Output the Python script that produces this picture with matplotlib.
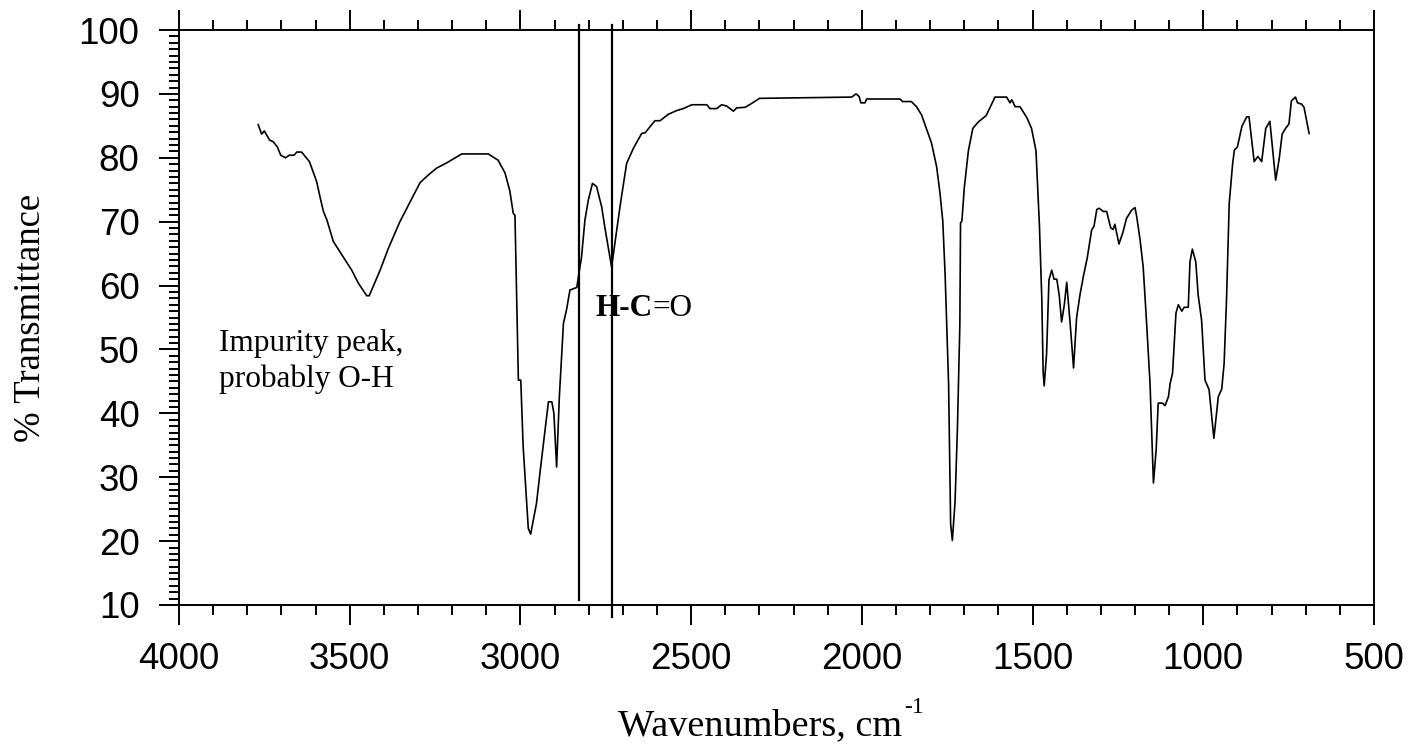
import matplotlib
matplotlib.use("Agg")
import matplotlib.pyplot as plt
from matplotlib.ticker import MultipleLocator

# ---- data ----
wavenumber = [
    3768, 3758, 3750, 3735, 3724, 3712, 3702, 3688, 3677, 3663, 3655, 3641,
    3618, 3607, 3597, 3585, 3577, 3567, 3548, 3519, 3494, 3475, 3450, 3443,
    3411, 3387, 3353, 3324, 3294, 3270, 3245, 3216, 3172, 3094, 3065, 3045,
    3031, 3021, 3016, 3006, 2999, 2992, 2977, 2970, 2953, 2943, 2918, 2908,
    2902, 2894, 2886, 2874, 2865, 2855, 2835, 2821, 2811, 2801, 2789, 2777,
    2762, 2753, 2733, 2708, 2689, 2669, 2645, 2635, 2606, 2591, 2567, 2542,
    2523, 2498, 2454, 2445, 2425, 2411, 2396, 2376, 2367, 2342, 2323, 2300,
    2030, 2017, 2008, 2003, 1991, 1986, 1888, 1881, 1855, 1840, 1825, 1811,
    1796, 1781, 1771, 1763, 1756, 1746, 1740, 1735, 1727, 1720, 1713, 1711,
    1707, 1700, 1688, 1675, 1659, 1636, 1610, 1576, 1566, 1561, 1551, 1537,
    1517, 1503, 1490, 1480, 1473, 1469, 1466, 1459, 1452, 1444, 1437, 1429,
    1422, 1415, 1407, 1400, 1390, 1380, 1371, 1361, 1351, 1340, 1327, 1320,
    1312, 1305, 1293, 1283, 1271, 1264, 1259, 1247, 1235, 1225, 1210, 1200,
    1195, 1185, 1176, 1166, 1156, 1146, 1138, 1132, 1119, 1112, 1102, 1097,
    1090, 1080, 1073, 1063, 1056, 1044, 1039, 1032, 1022, 1015, 1005, 995,
    983, 969, 956, 946, 939, 932, 924, 914, 909, 900, 887, 873,
    866, 851, 840, 829, 817, 805, 788, 778, 769, 759, 749, 742,
    730, 724, 712, 705, 690,
]
transmittance = [
    85.2, 83.7, 84.2, 82.8, 82.5, 81.7, 80.4, 80.0, 80.4, 80.4, 80.9, 80.9,
    79.4, 77.8, 76.3, 73.4, 71.6, 70.3, 66.9, 64.5, 62.4, 60.4, 58.4, 58.4,
    62.4, 65.8, 70.0, 73.0, 76.1, 77.3, 78.4, 79.2, 80.6, 80.6, 79.6, 77.6,
    74.8, 71.3, 71.0, 45.2, 45.2, 34.8, 22.0, 21.1, 25.9, 30.6, 41.8, 41.8,
    40.0, 31.6, 42.6, 54.1, 56.2, 59.3, 59.7, 64.5, 70.3, 73.4, 76.0, 75.5,
    72.3, 69.2, 62.9, 72.5, 79.1, 81.5, 83.8, 83.9, 85.8, 85.8, 86.8, 87.4,
    87.7, 88.3, 88.3, 87.7, 87.7, 88.3, 88.1, 87.3, 87.8, 87.9, 88.5, 89.3,
    89.5, 90.0, 89.6, 88.6, 88.6, 89.2, 89.2, 88.8, 88.8, 88.0, 86.7, 84.6,
    82.3, 78.6, 74.4, 70.1, 61.5, 44.7, 22.7, 20.1, 26.2, 37.8, 53.9, 69.8,
    70.1, 75.3, 81.1, 84.6, 85.6, 86.6, 89.5, 89.5, 88.6, 89.1, 88.0, 88.0,
    86.3, 84.6, 81.1, 69.5, 58.0, 46.4, 44.3, 49.3, 60.9, 62.4, 61.0, 61.0,
    58.5, 54.3, 57.0, 60.5, 54.1, 47.1, 55.0, 58.6, 61.5, 64.3, 68.7, 69.3,
    71.9, 72.1, 71.6, 71.6, 69.0, 68.8, 69.6, 66.5, 68.4, 70.5, 71.8, 72.2,
    70.8, 67.1, 62.9, 54.1, 44.7, 29.1, 34.3, 41.6, 41.6, 41.2, 42.6, 44.7,
    46.3, 55.7, 57.0, 56.0, 56.6, 56.6, 63.7, 65.7, 63.7, 58.5, 54.6, 45.2,
    43.7, 36.1, 42.6, 43.8, 47.8, 57.7, 72.9, 79.1, 81.2, 81.7, 84.9, 86.4,
    86.4, 79.4, 80.2, 79.4, 84.6, 85.7, 76.5, 79.7, 83.7, 84.6, 85.3, 88.9,
    89.5, 88.6, 88.4, 87.9, 83.8,
]

# reference lines marking the aldehyde C-H region
marker_wn = [2828, 2733]
marker_top = [100.8, 100.8]
marker_bottom = [10.8, 8.1]

x_ticks = [4000, 3500, 3000, 2500, 2000, 1500, 1000, 500]
y_ticks = [10, 20, 30, 40, 50, 60, 70, 80, 90, 100]

# ---- figure ----
fig = plt.figure(figsize=(14.10, 7.53), dpi=100)
ax = fig.add_axes([179 / 1410, 1 - 605 / 753, (1374 - 179) / 1410, (605 - 30) / 753])

ax.plot(wavenumber, transmittance, color="black", lw=1.2)

for wn, y0, y1 in zip(marker_wn, marker_bottom, marker_top):
    ax.plot([wn, wn], [y0, y1], color="black", lw=1.6, clip_on=False)

ax.set_xlim(4000, 500)
ax.set_ylim(10, 100)
ax.set_xticks(x_ticks)
ax.set_yticks(y_ticks)
ax.xaxis.set_minor_locator(MultipleLocator(100))
ax.yaxis.set_minor_locator(MultipleLocator(1))

for s in ax.spines.values():
    s.set_linewidth(1.4)

ax.tick_params(axis="x", which="both", direction="out", top=True, bottom=True,
               width=1.4)
ax.tick_params(axis="y", which="both", direction="out", left=True, right=False,
               width=1.4)
ax.tick_params(which="major", length=14.4)
ax.tick_params(which="minor", length=7.2)
ax.tick_params(axis="x", which="major", labelsize=26.5, pad=12)
ax.tick_params(axis="y", which="major", labelsize=26.5, pad=14)
for lab in ax.get_xticklabels() + ax.get_yticklabels():
    lab.set_fontfamily("Liberation Sans")

# x label with a small raised "-1"
xl = fig.text((179 + 1374) / 2 / 1410 - 0.012, 1 - 735 / 753, "Wavenumbers, cm",
              fontsize=27.5, fontfamily="Liberation Serif",
              ha="center", va="baseline")
ax.annotate("-1", xy=(1, 1), xycoords=xl, xytext=(1.5, -3),
            textcoords="offset points", fontsize=17,
            fontfamily="Liberation Serif", va="baseline", ha="left")

ax.set_ylabel("% Transmittance", fontsize=26.5,
              fontfamily="Liberation Serif", labelpad=22)

ax.text(3882, 49.8, "Impurity peak,", fontsize=22.5,
        fontfamily="Liberation Serif", va="baseline", ha="left")
ax.text(3882, 44.1, "probably O-H", fontsize=22.5,
        fontfamily="Liberation Serif", va="baseline", ha="left")

t1 = ax.text(2780, 55.2, "H-C", fontsize=22.5, fontweight="bold",
             fontfamily="Liberation Serif", va="baseline", ha="left")
ax.annotate("=O", xy=(1, 0), xycoords=t1, fontsize=22.5,
            fontfamily="Liberation Serif", va="bottom", ha="left")

fig.savefig("out.png", dpi=100)
